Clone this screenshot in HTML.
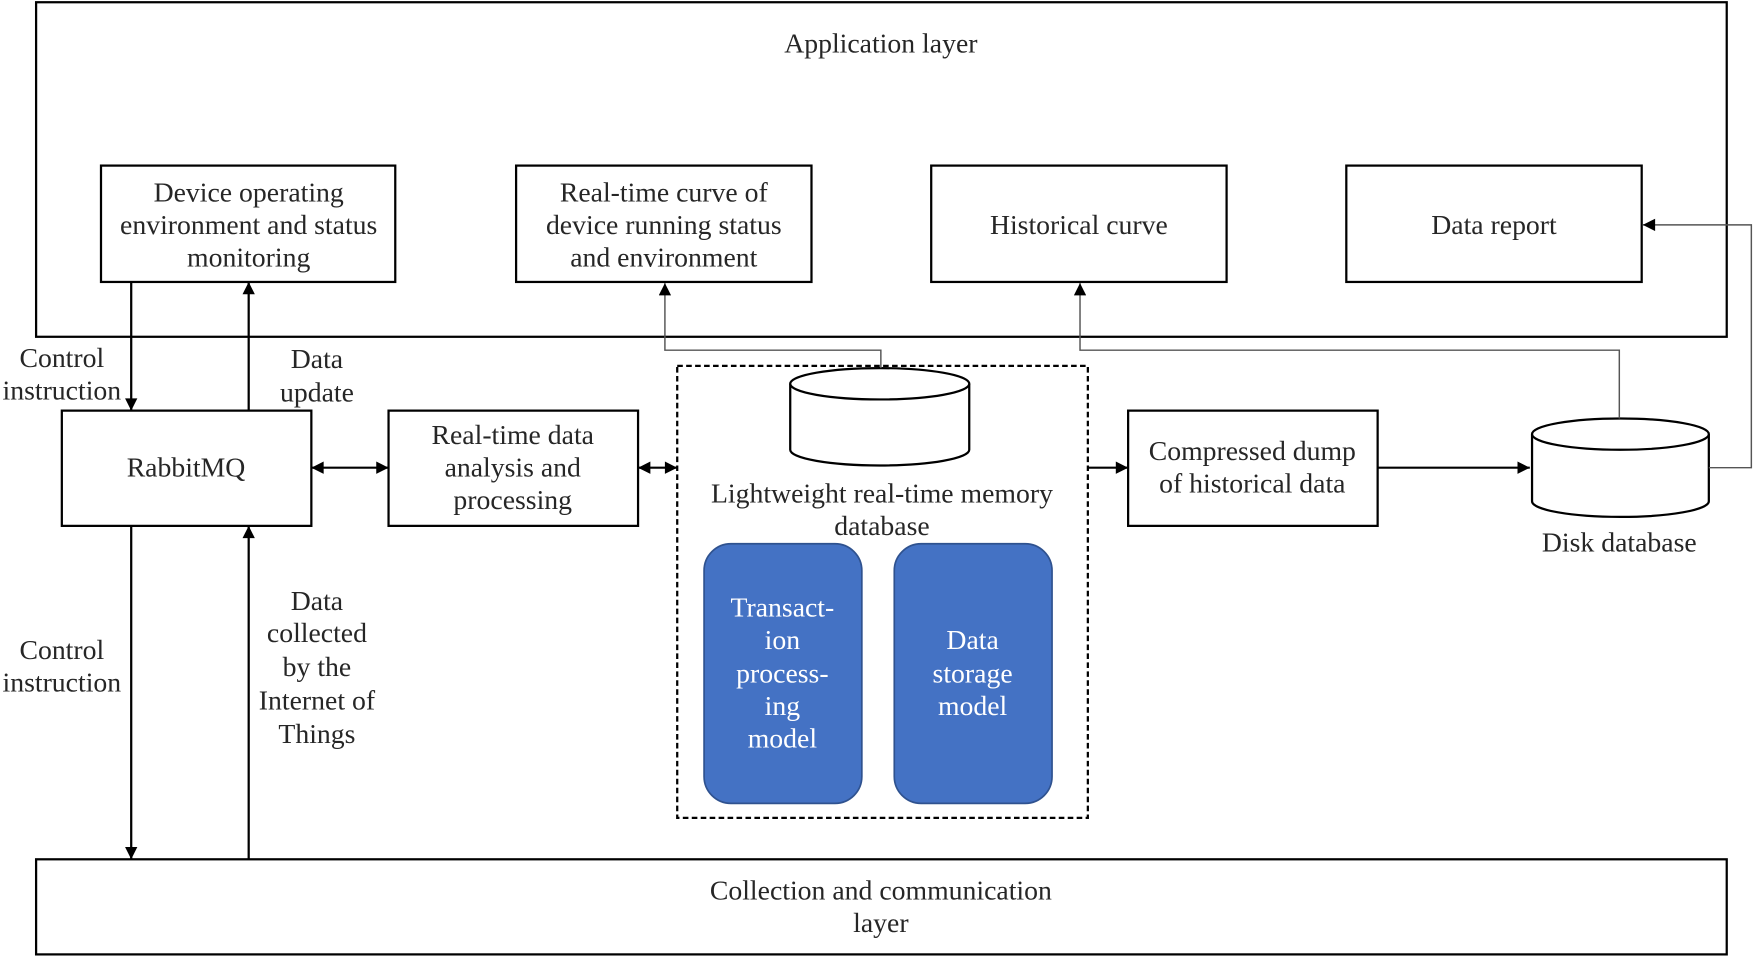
<!DOCTYPE html>
<html><head><meta charset="utf-8"><style>
html,body{margin:0;padding:0;background:#fff;}
svg{display:block;}
text{font-family:"Liberation Serif",serif;font-size:24.8px;fill:#262626;text-anchor:middle;}
.w{fill:#fff;}
</style></head><body>
<svg width="1755" height="960" viewBox="0 0 1568 858" xmlns="http://www.w3.org/2000/svg">
<defs>
<marker id="a" viewBox="0 0 10 10" refX="10" refY="5" markerWidth="12" markerHeight="11" markerUnits="userSpaceOnUse" orient="auto-start-reverse"><path d="M0,0L10,5L0,10z" fill="#000"/></marker>
</defs>
<g fill="none" stroke="#000" stroke-width="2">
<rect x="32" y="2" width="1511" height="299"/>
<rect x="90" y="148" width="263" height="104"/>
<rect x="461" y="148" width="264" height="104"/>
<rect x="832" y="148" width="264" height="104"/>
<rect x="1203" y="148" width="264" height="104"/>
<rect x="55" y="367" width="223" height="103"/>
<rect x="347" y="367" width="223" height="103"/>
<rect x="1008" y="367" width="223" height="103"/>
<rect x="32" y="768" width="1511" height="85"/>
<rect x="605" y="327" width="367" height="404" stroke-dasharray="5,3"/>
</g>
<g stroke="#000" stroke-width="2" fill="#fff">
<path d="M706,343 L706,402 A80,14 0 0 0 866,402 L866,343"/>
<ellipse cx="786" cy="343" rx="80" ry="14"/>
<path d="M1369,388 L1369,448 A79,14 0 0 0 1527,448 L1527,388"/>
<ellipse cx="1448" cy="388" rx="79" ry="14"/>
</g>
<rect x="629" y="486" width="141" height="232" rx="24" fill="#4472c4" stroke="#2f528f" stroke-width="1.5"/>
<rect x="799" y="486" width="141" height="232" rx="24" fill="#4472c4" stroke="#2f528f" stroke-width="1.5"/>
<g fill="none" stroke="#000" stroke-width="2">
<line x1="117" y1="252" x2="117" y2="367" marker-end="url(#a)"/>
<line x1="222" y1="367" x2="222" y2="252" marker-end="url(#a)"/>
<line x1="117" y1="470" x2="117" y2="768" marker-end="url(#a)"/>
<line x1="222" y1="768" x2="222" y2="470" marker-end="url(#a)"/>
<line x1="278" y1="418" x2="347" y2="418" marker-start="url(#a)" marker-end="url(#a)"/>
<line x1="570" y1="418" x2="605" y2="418" marker-start="url(#a)" marker-end="url(#a)"/>
<line x1="972" y1="418" x2="1008" y2="418" marker-end="url(#a)"/>
<line x1="1231" y1="418" x2="1367" y2="418" marker-end="url(#a)"/>
</g>
<g fill="none" stroke="#555" stroke-width="1.3">
<polyline points="1527,418 1565,418 1565,201 1468,201" marker-end="url(#a)"/>
<polyline points="1447,374 1447,313 965,313 965,253" marker-end="url(#a)"/>
<polyline points="787,329 787,313 594,313 594,253" marker-end="url(#a)"/>
</g>
<text x="787" y="47">Application layer</text>
<text x="222" y="180">Device operating</text>
<text x="222" y="209">environment and status</text>
<text x="222" y="238">monitoring</text>
<text x="593" y="180">Real-time curve of</text>
<text x="593" y="209">device running status</text>
<text x="593" y="238">and environment</text>
<text x="964" y="209">Historical curve</text>
<text x="1335" y="209">Data report</text>
<text x="55" y="328">Control</text>
<text x="55" y="357">instruction</text>
<text x="283" y="329">Data</text>
<text x="283" y="359">update</text>
<text x="166" y="426">RabbitMQ</text>
<text x="458" y="397">Real-time data</text>
<text x="458" y="426">analysis and</text>
<text x="458" y="455">processing</text>
<text x="788" y="449">Lightweight real-time memory</text>
<text x="788" y="478">database</text>
<text x="1119" y="411">Compressed dump</text>
<text x="1119" y="440">of historical data</text>
<text x="1447" y="493">Disk database</text>
<text x="55" y="589">Control</text>
<text x="55" y="618">instruction</text>
<text x="283" y="545">Data</text>
<text x="283" y="574">collected</text>
<text x="283" y="604">by the</text>
<text x="283" y="634">Internet of</text>
<text x="283" y="664">Things</text>
<text class="w" x="699" y="551">Transact-</text>
<text class="w" x="699" y="580">ion</text>
<text class="w" x="699" y="610">process-</text>
<text class="w" x="699" y="639">ing</text>
<text class="w" x="699" y="668">model</text>
<text class="w" x="869" y="580">Data</text>
<text class="w" x="869" y="610">storage</text>
<text class="w" x="869" y="639">model</text>
<text x="787" y="804">Collection and communication</text>
<text x="787" y="833">layer</text>
</svg>
</body></html>
